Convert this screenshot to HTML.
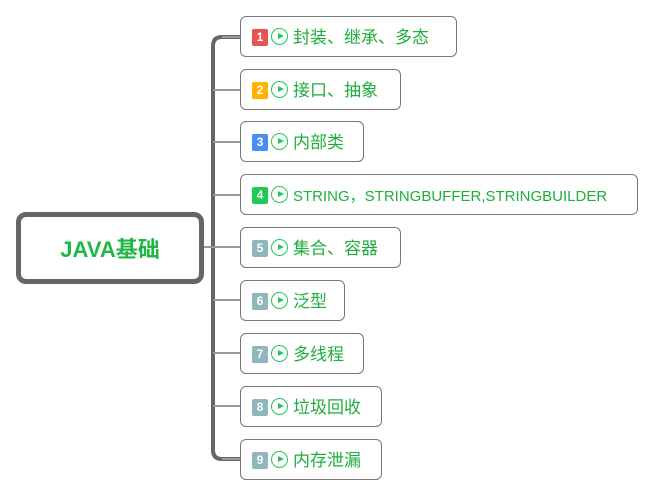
<!DOCTYPE html>
<html><head><meta charset="utf-8"><style>
body{margin:0;width:654px;height:497px;background:#fff;position:relative;overflow:hidden;font-family:"Liberation Sans","Noto Sans CJK SC",sans-serif}
.root{position:absolute;left:16px;top:212px;width:178px;height:62px;border:5px solid #666;border-radius:10px;display:flex;align-items:center;justify-content:center;color:#1fb845;font-weight:bold;font-size:22px}
.n{position:absolute;left:240px;border:1px solid #777;border-radius:6px;box-sizing:border-box;height:41px}
.b{position:absolute;left:11px;top:12px;width:16px;height:17px;border-radius:2px;color:#fff;font-weight:bold;font-size:12px;text-align:center;line-height:17px}
.p{position:absolute;left:30px;top:11px;width:15px;height:15px;border:1.6px solid #22c55e;border-radius:50%}
.p:after{content:"";position:absolute;left:5.5px;top:4px;border-left:6px solid #22c55e;border-top:3.5px solid transparent;border-bottom:3.5px solid transparent}
.t{position:absolute;left:52px;top:10px;font-size:17px;color:#1fae3c;white-space:nowrap;line-height:22px}
</style></head><body>
<svg width="654" height="497" style="position:absolute;left:0;top:0">
<path d="M240 37 H222 Q213 37 213 46 V450 Q213 459 222 459 H240" fill="none" stroke="#666" stroke-width="4"/>
<g stroke="#999" stroke-width="2">
<line x1="213" y1="90" x2="240" y2="90"/><line x1="213" y1="142" x2="240" y2="142"/><line x1="213" y1="195" x2="240" y2="195"/><line x1="204" y1="247" x2="240" y2="247"/><line x1="213" y1="300" x2="240" y2="300"/><line x1="213" y1="353" x2="240" y2="353"/><line x1="213" y1="406" x2="240" y2="406"/>
<line x1="222" y1="37" x2="240" y2="37"/><line x1="222" y1="459" x2="240" y2="459"/>
</g>
</svg>
<div class="root">JAVA基础</div>
<div class="n" style="top:16px;width:217px"><div class="b" style="background:#e8524f">1</div><div class="p"></div><div class="t">封装、继承、多态</div></div>
<div class="n" style="top:69px;width:161px"><div class="b" style="background:#ffb300">2</div><div class="p"></div><div class="t">接口、抽象</div></div>
<div class="n" style="top:121px;width:124px"><div class="b" style="background:#4a8df0">3</div><div class="p"></div><div class="t">内部类</div></div>
<div class="n" style="top:174px;width:398px"><div class="b" style="background:#1ec954">4</div><div class="p"></div><div class="t" style="font-size:15px;top:11px">STRING，STRINGBUFFER,STRINGBUILDER</div></div>
<div class="n" style="top:227px;width:161px"><div class="b" style="background:#8fb6bd">5</div><div class="p"></div><div class="t">集合、容器</div></div>
<div class="n" style="top:280px;width:105px"><div class="b" style="background:#8fb6bd">6</div><div class="p"></div><div class="t">泛型</div></div>
<div class="n" style="top:333px;width:124px"><div class="b" style="background:#8fb6bd">7</div><div class="p"></div><div class="t">多线程</div></div>
<div class="n" style="top:386px;width:142px"><div class="b" style="background:#8fb6bd">8</div><div class="p"></div><div class="t">垃圾回收</div></div>
<div class="n" style="top:439px;width:142px"><div class="b" style="background:#8fb6bd">9</div><div class="p"></div><div class="t">内存泄漏</div></div>
</body></html>
